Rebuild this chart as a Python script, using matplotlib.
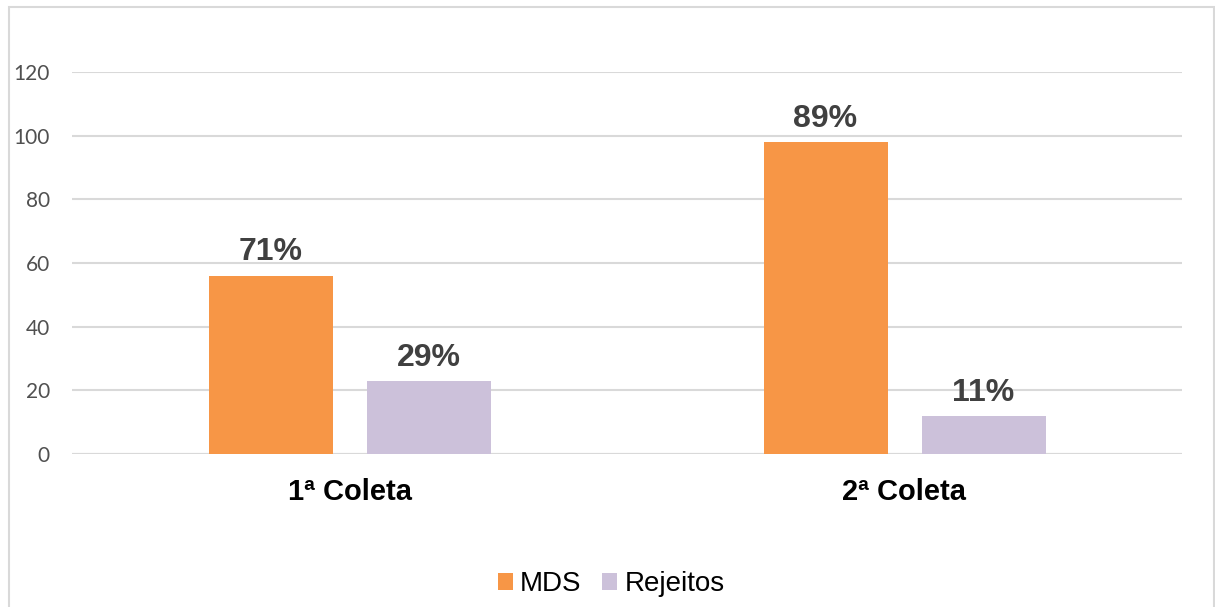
import matplotlib
matplotlib.use("Agg")
import matplotlib.pyplot as plt
from matplotlib.patches import Rectangle
import numpy as np

categories = ["1ª Coleta", "2ª Coleta"]
series_names = ["MDS", "Rejeitos"]
mds = [56, 98]
rejeitos = [23, 12]
mds_labels = ["71%", "89%"]
rej_labels = ["29%", "11%"]
yticks = [0, 20, 40, 60, 80, 100, 120]

colors = ["#F79646", "#CCC1DA"]

fig = plt.figure(figsize=(12.15, 6.07), dpi=100)
W, H = 1215, 607
ax = fig.add_axes([72 / W, 1 - 454 / H, (1182 - 72) / W, (454 - 72) / H])

# outer chart border
fig.patches.append(Rectangle((9 / W, -0.05), (1214 - 9) / W, (1 - 7 / H) + 0.05,
                             transform=fig.transFigure, fill=False,
                             edgecolor="#D9D9D9", linewidth=1.5))

x = np.arange(len(categories))
bw = 124 / 555
off = (62 + 17) / 555
b1 = ax.bar(x - off, mds, bw, color=colors[0], label=series_names[0], zorder=3)
b2 = ax.bar(x + off, rejeitos, bw, color=colors[1], label=series_names[1], zorder=3)

for bars, labs in ((b1, mds_labels), (b2, rej_labels)):
    for r, lab in zip(bars, labs):
        ax.annotate(lab, (r.get_x() + r.get_width() / 2, r.get_height()),
                    xytext=(0, 11), textcoords="offset points",
                    ha="center", va="baseline", fontsize=23, fontweight="bold",
                    color="#404040", family="Liberation Sans")

ax.set_xlim(-0.5, 1.5)
ax.set_ylim(0, 120)
ax.set_yticks(yticks)
ax.set_yticklabels([str(t) for t in yticks], fontsize=15, color="#505050", family="Lato")
ax.set_xticks(x)
ax.set_xticklabels(categories, fontsize=21, fontweight="bold", color="#000000",
                   family="Liberation Sans")
ax.tick_params(axis="y", length=0, pad=16)
ax.tick_params(axis="x", length=0, pad=17)
ax.grid(axis="y", color="#D9D9D9", linewidth=1.5, zorder=0)
for s in ax.spines.values():
    s.set_visible(False)
ax.axhline(0, color="#D9D9D9", linewidth=1.5, zorder=2)

leg = fig.legend(loc="center", bbox_to_anchor=(611 / W, 1 - 584 / H), ncol=2,
                 frameon=False, prop={"family": "Liberation Sans", "size": 20},
                 handlelength=0.55, handleheight=0.55, handletextpad=0.25,
                 columnspacing=0.75)

fig.savefig("out.png", dpi=100)
